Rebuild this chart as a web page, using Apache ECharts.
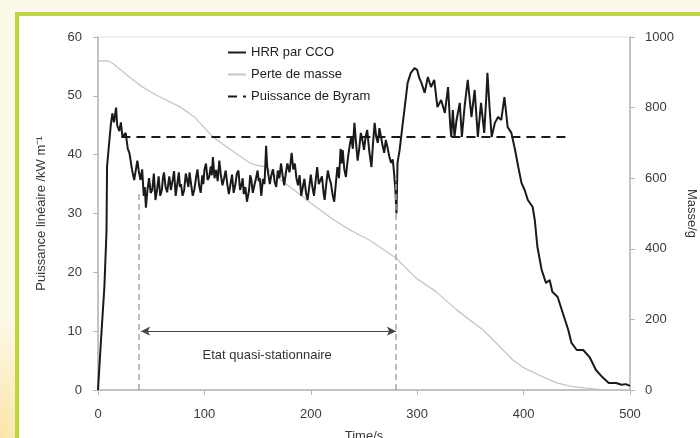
<!DOCTYPE html>
<html>
<head>
<meta charset="utf-8">
<script src="https://cdn.jsdelivr.net/npm/echarts@6/dist/echarts.min.js"></script>
<style>
  html, body { margin: 0; padding: 0; }
  body {
    width: 700px; height: 438px; overflow: hidden; position: relative;
    background: radial-gradient(ellipse 60px 120px at 0px 438px, #fbe4a8 0%, rgba(251,228,168,0) 100%), #fdf9e8;
    font-family: "Liberation Sans", Arial, sans-serif;
  }
  #frame {
    position: absolute; left: 15px; top: 12px; width: 700px; height: 440px;
    border-left: 4px solid #bdd735; border-top: 4px solid #bdd735; background: #fff;
  }
  #chart { position: absolute; left: 0; top: 0; width: 700px; height: 438px; }
</style>
</head>
<body>
<div id="frame"></div>
<div id="chart"></div>
<script>
// courbe HRR (puissance linéaire, kW/m)
const hrrT = [
  0, 1, 3, 6, 8, 8.5, 10, 12, 13.5, 15,
  17, 18, 20, 21.5, 23, 26, 28, 29.5, 32, 34,
  37, 38.5,
  40, 41.5, 43, 44, 45, 46.5, 48, 49.5, 51, 52.5,
  54, 55.5, 57, 58.5, 60, 61, 62, 63.5, 65, 66,
  67, 68.5, 70, 71.5, 73, 74.5, 76, 77, 78, 79.5,
  81, 82.5, 84, 85, 86, 87.5, 89, 90.5, 92, 93.5,
  95, 96.5, 98, 99, 100, 101.5, 103, 104.5, 106, 107,
  108, 109.5, 111, 112.5, 114, 115.5, 117, 118.5, 120, 121.5,
  123, 124.5, 126, 127.5, 129, 130.5, 132, 133.5, 135, 136,
  137, 138.5, 140, 141, 142, 143, 144, 145.5, 147, 148.5,
  150, 151, 152, 153.5, 155, 156.5, 158, 159, 160, 161.5,
  163, 164.5, 166, 167.5, 169, 170.5, 172, 173.5, 175, 176.5,
  178, 180, 182, 183.5, 185, 186.5, 188, 189.5, 191, 192.5,
  194, 195.5, 197, 198.5, 200, 201.5, 203, 204.5, 206, 207.5,
  209, 210.5, 212, 213, 214.5, 216, 217.5, 219, 220.5, 222,
  223.5, 225, 226.5, 228, 229, 230, 231.5, 233, 234, 235,
  236.5, 238, 239.5, 241, 242.5, 244, 245.5, 247, 248.5, 250,
  251.5, 253, 255, 257, 258.5, 260, 261.5, 263, 264.5, 266,
  267.5, 269, 270.5, 272, 274, 275.5, 277, 278, 279.5, 280.5,
  281.5, 283.5, 286, 288, 291, 294, 297.5, 300, 302, 304,
  307, 310, 313, 316, 319, 322.5, 326, 329, 331, 332,
  333.5, 335, 337, 340, 342, 344.5, 347.5, 351, 354, 357,
  360, 363, 365, 366, 368, 370, 373, 376, 379, 382,
  385, 388.5, 392, 395, 398, 401, 404, 408.5, 410.5, 413,
  417, 421, 424.5, 427, 432, 437, 442, 445, 450, 456,
  462, 468, 474, 480, 487, 492, 496, 500];
const hrrV = [
  0, 3, 9, 17.5, 27, 38, 41, 45, 47, 45.5,
  48, 45, 44, 45.5, 43, 43.7, 41, 40.3, 37.4, 35.7,
  39, 37,
  35.7, 37.5, 33, 34.5, 31, 34, 36, 33.5, 34, 36.8,
  32.3, 34, 36.3, 33, 34, 36, 37, 34.5, 33.6, 35,
  36.3, 34, 35.5, 37.2, 33, 35, 37, 34.5, 35, 33,
  34, 36.8, 36.5, 34.5, 37, 35, 33, 34, 35.9, 37.5,
  34.8, 33.5, 36.5, 35, 37.4, 38.5, 35.7, 36.2, 38, 36.5,
  39.6, 36, 37.4, 35.5, 39, 36.5, 34.8, 36, 37.3, 35,
  33.3, 35, 36.6, 33.5, 34.8, 36.8, 37.3, 34, 35, 36,
  33.3, 34.5, 32, 33, 34, 36.5, 35.9, 33.5, 34.8, 36,
  37.3, 35.5, 36, 33, 35.9, 35, 41.5, 38, 37.9, 35,
  36.6, 37.5, 35.4, 34.5, 37.3, 36, 38.5, 36.5, 34.8, 36.8,
  38.5, 37, 40.3, 37.5, 38.5, 36, 34.8, 36.5, 33, 34.5,
  35.9, 33.5, 32.3, 34.5, 36.6, 34.5, 33, 35.5, 37.9, 35,
  34.8, 36.3, 33.5, 32.3, 35, 37.3, 36, 35, 33.2, 32,
  35, 37.9, 36, 41, 38.5, 40.8, 37.5, 36.2, 38, 39.6,
  41.5, 43, 41, 45.4, 42, 39, 41, 43.7, 42.5, 40.8,
  43, 44.2, 40.5, 37.9, 42, 45.4, 43, 42, 44.5, 43,
  41.5, 40.3, 42.5, 41.3, 39.5, 38.6, 39.2, 37.4, 34, 30,
  38.6, 40.8, 44.7, 47.6, 52.2, 53.9, 54.7, 54.4, 53, 52.2,
  50.5, 53.2, 51.5, 52.7, 48.1, 49.3, 47.1, 51.5, 45, 43,
  47.6, 43, 45.9, 48.8, 43, 48.1, 52.7, 46.4, 51, 43,
  48.8, 43.7, 50, 53.9, 48, 43, 45.4, 46.4, 45.9, 49.8,
  44.7, 43.7, 40.8, 37.9, 35.2, 34, 32.3, 31.1, 28.9, 24.3,
  20.4, 18.2, 18.7, 16.7, 15.8, 13, 10.2, 8, 6.8, 6.8,
  5.6, 3.4, 2.2, 1.2, 1.2, 0.9, 1.0, 0.7];

// perte de masse (g), axe de droite
const masseT = [0, 10, 14, 20, 30, 42, 55, 77, 90, 108, 125, 143, 150, 158, 168, 185, 200, 220, 237, 255,
  280, 299, 318, 337, 362, 390, 399, 418, 431, 445, 456, 474, 500];
const masseV = [932, 932, 925, 910, 885, 858, 835, 802, 775, 717, 680, 643, 636, 632, 603, 565, 530, 485, 453, 425,
  374, 317, 278, 227, 170, 85, 65, 37, 20, 10, 6, 1, 0];

// puissance de Byram (constante)
const byramT = [22, 440];
const byramV = [43, 43];

// état quasi-stationnaire
const steadyStart = 38, steadyEnd = 280;
const steadyTop = [34, 36];      // hauteur des pointillés verticaux
const arrowLevel = 10;
const steadyLabel = "Etat quasi-stationnaire";
const steadyLabelPos = [159, 5.9];

const zip = (a, b) => a.map((x, i) => [x, b[i]]);
const FONT = "Liberation Sans";
const AXIS_GREY = "#b4b4b4";
const TXT = "#3a3a3a";

const chart = echarts.init(document.getElementById("chart"), null, { renderer: "canvas" });
chart.setOption({
  backgroundColor: "transparent",
  animation: false,
  textStyle: { fontFamily: FONT },
  grid: {
    left: 98, right: 70, top: 37, bottom: 48, outerBoundsMode: "none",
    show: true, borderColor: "#e2e2e2", borderWidth: 1,
  },
  legend: {
    data: ["HRR par CCO", "Perte de masse", "Puissance de Byram"],
    orient: "vertical", left: 222, top: 41, itemWidth: 18, itemHeight: 14, itemGap: 9,
    itemStyle: { opacity: 0 },
    textStyle: { fontSize: 13, color: "#222", fontFamily: FONT },
  },
  xAxis: {
    type: "value", min: 0, max: 500, interval: 100,
    name: "Time/s", nameLocation: "middle", nameGap: 40,
    nameTextStyle: { fontSize: 13, color: TXT },
    axisLine: { lineStyle: { color: AXIS_GREY, width: 1.5 } },
    axisTick: { show: true, length: 5, lineStyle: { color: AXIS_GREY } },
    axisLabel: { fontSize: 13, color: TXT, margin: 18 },
    splitLine: { show: false },
  },
  yAxis: [
    {
      type: "value", min: 0, max: 60, interval: 10, position: "left",
      name: "Puissance linéaire /kW m⁻¹", nameLocation: "middle", nameGap: 50,
      nameTextStyle: { fontSize: 13, color: TXT },
      axisLine: { show: true, lineStyle: { color: AXIS_GREY, width: 1.5 } },
      axisTick: { show: true, length: 5, lineStyle: { color: AXIS_GREY } },
      axisLabel: { fontSize: 13, color: TXT, margin: 16 },
      splitLine: { show: false },
    },
    {
      type: "value", min: 0, max: 1000, interval: 200, position: "right",
      name: "Masse/g", nameLocation: "middle", nameGap: 52, nameRotate: -90,
      nameTextStyle: { fontSize: 13, color: TXT },
      axisLine: { show: true, lineStyle: { color: AXIS_GREY, width: 1.5 } },
      axisTick: { show: true, length: 5, lineStyle: { color: AXIS_GREY } },
      axisLabel: { fontSize: 13, color: TXT, margin: 15, formatter: (v) => String(v) },
      splitLine: { show: false },
    },
  ],
  series: [
    {
      name: "Perte de masse", type: "line", yAxisIndex: 1, symbol: "none",
      data: zip(masseT, masseV),
      lineStyle: { color: "#c6c6c6", width: 1.3 }, itemStyle: { color: "#c6c6c6" },
    },
    {
      name: "HRR par CCO", type: "line", yAxisIndex: 0, symbol: "none",
      data: zip(hrrT, hrrV),
      lineStyle: { color: "#1a1a1a", width: 2 }, itemStyle: { color: "#1a1a1a" },
    },
    {
      name: "Puissance de Byram", type: "line", yAxisIndex: 0, symbol: "none",
      data: zip(byramT, byramV),
      lineStyle: { color: "#1a1a1a", width: 2.2, type: [9, 6] }, itemStyle: { color: "#1a1a1a" },
      markLine: {
        silent: true, symbol: "none", label: { show: false },
        data: [
          [{ coord: [steadyStart, 0], lineStyle: { color: "#a8a8a8", width: 1.5, type: [6, 4] } },
           { coord: [steadyStart, steadyTop[0]] }],
          [{ coord: [steadyEnd, 0], lineStyle: { color: "#a8a8a8", width: 1.5, type: [6, 4] } },
           { coord: [steadyEnd, steadyTop[1]] }],
          [{ coord: [steadyStart + 2.5, arrowLevel], symbol: "arrow", symbolSize: [7, 9],
             lineStyle: { color: "#444", width: 1, type: "solid" } },
           { coord: [steadyEnd, arrowLevel], symbol: "arrow", symbolSize: [7, 9] }],
        ],
      },
      markPoint: {
        silent: true, symbol: "rect", symbolSize: 0,
        label: { show: true, position: "inside", formatter: steadyLabel, fontSize: 13, color: "#333", fontFamily: FONT },
        data: [{ coord: steadyLabelPos }],
      },
    },
  ],
});
</script>
</body>
</html>
